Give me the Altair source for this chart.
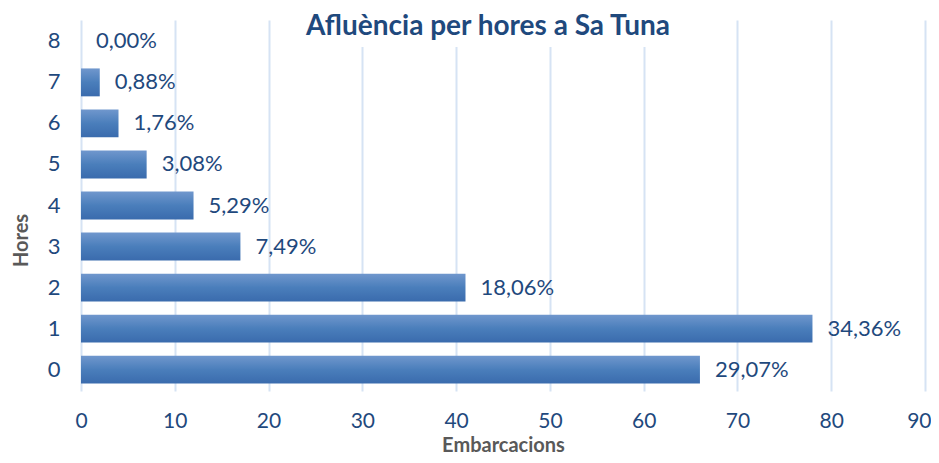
import altair as alt
import pandas as pd

hores = ["0", "1", "2", "3", "4", "5", "6", "7", "8"]
embarcacions = [66, 78, 41, 17, 12, 7, 4, 2, 0]
percentatges = ["29,07%", "34,36%", "18,06%", "7,49%", "5,29%", "3,08%", "1,76%", "0,88%", "0,00%"]
x_ticks = [0, 10, 20, 30, 40, 50, 60, 70, 80, 90]

df = pd.DataFrame({"Hores": hores, "Embarcacions": embarcacions, "Pct": percentatges})

BLUE_TXT = "#1f497d"
FONT = "Lato"

y_enc = alt.Y(
    "Hores:O",
    sort=hores[::-1],
    scale=alt.Scale(paddingInner=0.32, paddingOuter=0.18),
    axis=alt.Axis(
        title="Hores",
        titleFont=FONT, titleFontSize=20, titleFontWeight="bold", titleColor="#595959",
        titleAngle=270, titleAlign="center", titleBaseline="alphabetic",
        titleX=-54, titleY=220,
        labelFont=FONT, labelFontSize=22, labelColor=BLUE_TXT, labelPadding=21,
        ticks=False, domain=False, grid=False,
    ),
)
x_enc = alt.X(
    "Embarcacions:Q",
    scale=alt.Scale(domain=[0, 90], nice=False),
    axis=alt.Axis(
        title="Embarcacions", values=x_ticks,
        titleFont=FONT, titleFontSize=20, titleFontWeight="bold", titleColor="#595959",
        titleBaseline="alphabetic", titleY=60,
        labelFont=FONT, labelFontSize=21, labelColor=BLUE_TXT, labelPadding=19,
        labelFlush=True, labelFlushOffset=6,
        ticks=False, domain=False, grid=True, gridColor="#d6e3f4", gridWidth=2,
    ),
)

grad = alt.Gradient(
    gradient="linear", x1=0, y1=0, x2=0, y2=1,
    stops=[
        alt.GradientStop(offset=0, color="#7097cd"),
        alt.GradientStop(offset=0.5, color="#4a7ebb"),
        alt.GradientStop(offset=1, color="#3a6bad"),
    ],
)

# white patch behind the title (the title box hides the gridlines under it)
title_bg = alt.Chart(df).mark_rect(color="white").encode(
    x=alt.datum(23.5), x2=alt.datum(62.8), y=alt.value(0), y2=alt.value(27)
)
bars = alt.Chart(df).mark_bar(color=grad).encode(y=y_enc, x=x_enc)
labels = alt.Chart(df).mark_text(
    align="left", baseline="middle", dx=15, font=FONT, fontSize=22, color=BLUE_TXT
).encode(y=alt.Y("Hores:O", sort=hores[::-1]), x="Embarcacions:Q", text="Pct:N")

chart = (
    alt.layer(bars, title_bg, labels)
    .properties(
        width=844, height=371,
        title=alt.TitleParams(
            "Afluència per hores a Sa Tuna", font=FONT, fontSize=28, fontWeight="bold",
            color=BLUE_TXT, anchor="middle", dx=-15, offset=-27, dy=16, baseline="alphabetic",
        ),
        autosize=alt.AutoSizeParams(type="none"),
        padding={"left": 73, "top": 12, "right": 6, "bottom": 64},
    )
    .configure_view(stroke=None)
)

chart.save("out.html", embed_options={"renderer": "svg", "actions": False})
